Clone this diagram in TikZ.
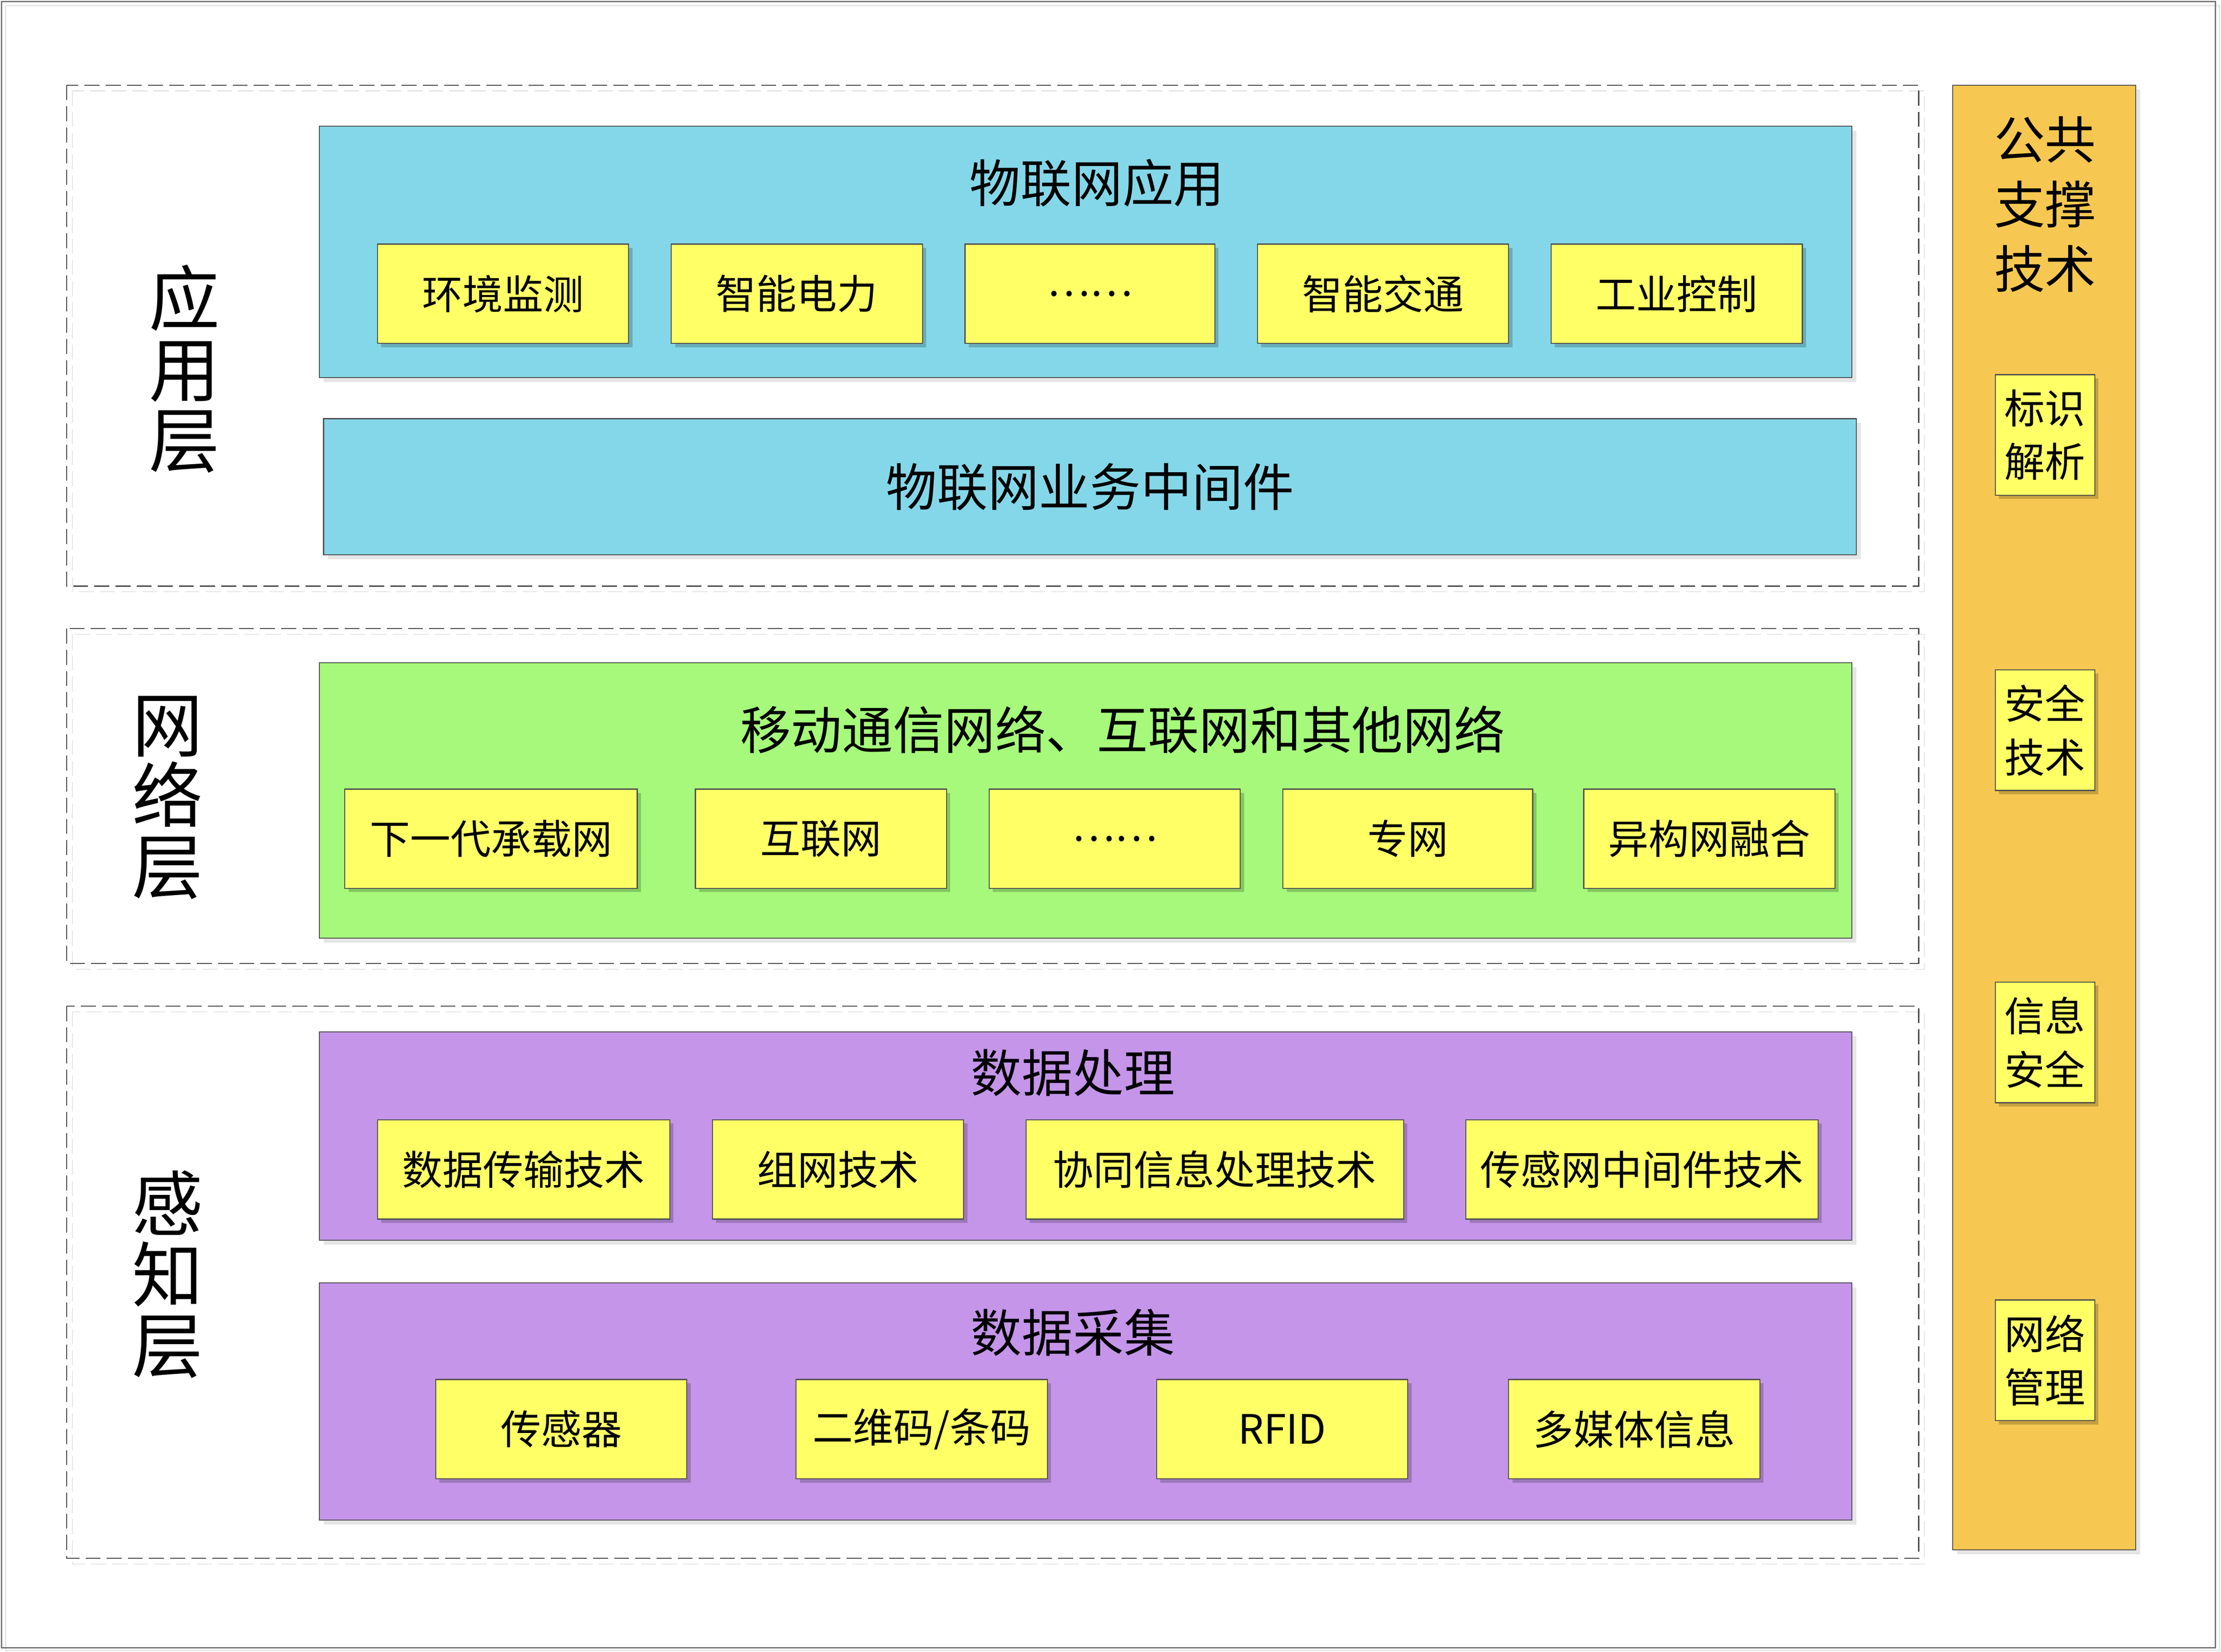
\documentclass[tikz,border=0pt]{standalone}
\usepackage{fontspec}
\setmainfont{Noto Sans CJK SC}
\usepackage{xcolor}
\usetikzlibrary{shadows}

\definecolor{appblue}{HTML}{84D7E8}
\definecolor{netgreen}{HTML}{A6F97A}
\definecolor{senspurple}{HTML}{C495E9}
\definecolor{suporange}{HTML}{F6C851}
\definecolor{itemyellow}{HTML}{FFFF66}

\begin{document}
\begin{tikzpicture}[x=0.0401cm, y=-0.0401cm,
  layer/.style={draw=black!75, line width=0.8pt, dash pattern=on 12pt off 5pt},
  layershade/.style={draw=black!10, line width=0.8pt, dash pattern=on 12pt off 5pt},
  band/.style={draw=black!70, line width=0.8pt,
    drop shadow={shadow xshift=3.5pt, shadow yshift=-3.5pt, fill=black, opacity=0.1}},
  item/.style={draw=black!70, line width=0.8pt, fill=itemyellow,
    drop shadow={shadow xshift=3pt, shadow yshift=-3pt, fill=black, opacity=0.2}},
  title/.style={font=\fontsize{41}{44}\selectfont, inner sep=0pt},
  label/.style={font=\fontsize{32.5}{36}\selectfont, inner sep=0pt},
  side/.style={font=\fontsize{57}{57}\selectfont, align=center, inner sep=0pt}]

\useasboundingbox (0,0) rectangle (1565,1164);
\draw[black!10, line width=1pt] (4,4) rectangle (1564,1163);
\draw[black!55, line width=1pt] (1,1) rectangle (1561,1161);

% dashed layers
\draw[layershade] (51,64) rectangle (1356,417);
\draw[layershade] (51,447) rectangle (1356,683);
\draw[layershade] (51,713) rectangle (1356,1102);
\draw[layer] (47,60) rectangle (1352,413);
\draw[layer] (47,443) rectangle (1352,679);
\draw[layer] (47,709) rectangle (1352,1098);

\node[side] (appside) at (130,260) {应\\用\\层};
\node[side] (netside) at (118,562) {网\\络\\层};
\node[side] (sensside) at (118,898) {感\\知\\层};

% application layer
\draw[band, fill=appblue] (225,89) rectangle (1305,266);
\node[title] (apptitle) at (773,129) {物联网应用};
\draw[item] (266,172) rectangle (443,242);
\node[label] (app1) at (354.5,207) {环境监测};
\draw[item] (473,172) rectangle (650,242);
\node[label] (app2) at (561.5,207) {智能电力};
\draw[item] (680,172) rectangle (856,242);
\node[label] (app3) at (768,207) {……};
\draw[item] (886,172) rectangle (1063,242);
\node[label] (app4) at (974.5,207) {智能交通};
\draw[item] (1093,172) rectangle (1270,242);
\node[label] (app5) at (1181.5,207) {工业控制};

\draw[band, fill=appblue] (228,295) rectangle (1308,391);
\node[title] (middleware) at (768,343) {物联网业务中间件};

% network layer
\draw[band, fill=netgreen] (225,467) rectangle (1305,661);
\node[title] (nettitle) at (791,514) {移动通信网络、互联网和其他网络};
\draw[item] (243,556) rectangle (449,626);
\node[label] (net1) at (346,591) {下一代承载网};
\draw[item] (490,556) rectangle (667,626);
\node[label] (net2) at (578.5,591) {互联网};
\draw[item] (697,556) rectangle (874,626);
\node[label] (net3) at (785.5,591) {……};
\draw[item] (904,556) rectangle (1080,626);
\node[label] (net4) at (992,591) {专网};
\draw[item] (1116,556) rectangle (1293,626);
\node[label] (net5) at (1204.5,591) {异构网融合};

% sensing layer
\draw[band, fill=senspurple] (225,727) rectangle (1305,874);
\node[title] (proctitle) at (756,756) {数据处理};
\draw[item] (266,789) rectangle (472,859);
\node[label] (proc1) at (369,824) {数据传输技术};
\draw[item] (502,789) rectangle (679,859);
\node[label] (proc2) at (590.5,824) {组网技术};
\draw[item] (723,789) rectangle (989,859);
\node[label] (proc3) at (856,824) {协同信息处理技术};
\draw[item] (1033,789) rectangle (1281,859);
\node[label] (proc4) at (1157,824) {传感网中间件技术};

\draw[band, fill=senspurple] (225,904) rectangle (1305,1071);
\node[title] (collecttitle) at (756,939) {数据采集};
\draw[item] (307,972) rectangle (484,1042);
\node[label] (coll1) at (395.5,1007) {传感器};
\draw[item] (561,972) rectangle (738,1042);
\node[label] (coll2) at (649.5,1007) {二维码/条码};
\draw[item] (815,972) rectangle (992,1042);
\node[label] (coll3) at (903.5,1007) {RFID};
\draw[item] (1063,972) rectangle (1240,1042);
\node[label] (coll4) at (1151.5,1007) {多媒体信息};

% common support
\draw[band, fill=suporange] (1376,60) rectangle (1505,1092);
\node[title, align=center, font=\fontsize{41}{52}\selectfont] (suptitle) at (1441,144) {公共\\支撑\\技术};
\draw[item] (1406,264) rectangle (1476,349);
\node[label, align=center, font=\fontsize{32.5}{43}\selectfont] (sup1) at (1441,306.5) {标识\\解析};
\draw[item] (1406,472) rectangle (1476,557);
\node[label, align=center, font=\fontsize{32.5}{43}\selectfont] (sup2) at (1441,514.5) {安全\\技术};
\draw[item] (1406,692) rectangle (1476,777);
\node[label, align=center, font=\fontsize{32.5}{43}\selectfont] (sup3) at (1441,734.5) {信息\\安全};
\draw[item] (1406,916) rectangle (1476,1001);
\node[label, align=center, font=\fontsize{32.5}{43}\selectfont] (sup4) at (1441,958.5) {网络\\管理};

\end{tikzpicture}
\end{document}
